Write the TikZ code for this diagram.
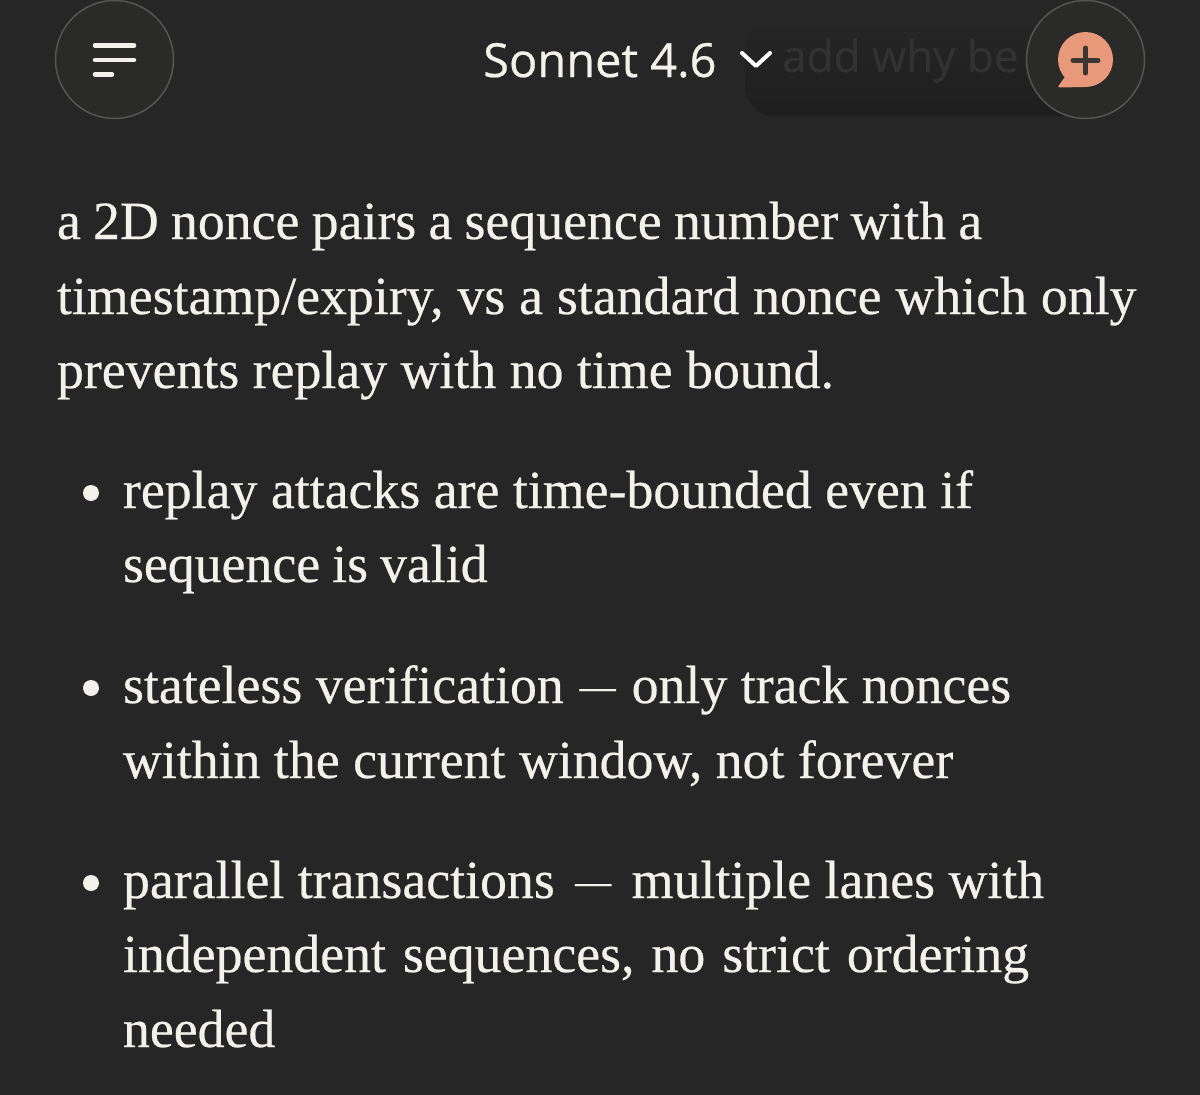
\documentclass[tikz,border=0pt]{standalone}
\usepackage{fontspec}
\setmainfont[FakeBold=0.4]{Liberation Serif}
\newfontfamily\uifont[FakeBold=0.5]{Open Sans}
\usetikzlibrary{
  calc
}
\definecolor{screen}{HTML}{262626}
\definecolor{bodytext}{HTML}{F2F1EC}
\definecolor{ringline}{HTML}{555553}
\definecolor{ringfill}{HTML}{2A2A29}
\definecolor{smear}{HTML}{1E1E1E}
\definecolor{smeartext}{HTML}{323232}
\definecolor{badge}{HTML}{E8997A}
\definecolor{badgemark}{HTML}{3B3632}
\newcommand{\shortdash}[1]{\hspace{#1}\raisebox{4.5pt}{\fontsize{36pt}{0pt}\selectfont —}\hspace{#1}}
\tikzset{
  % Scale: 1 reference pixel is 1pt.
  x=1pt,
  y=-1pt,
%
  % For text lines, placed by their baseline.
  line text/.style={
    text=bodytext,
    font={\fontsize{53.8pt}{0pt}\selectfont},
    anchor=base west,
    inner sep=0pt,
    outer sep=0pt},
%
  % For lines whose word spaces differ from the font's own.
  word gap/.style={
    execute at begin node={\spaceskip=#1\relax}},
%
  % For list bullets.
  bullet/.style={
    circle,
    fill=bodytext,
    minimum size=16pt,
    inner sep=0pt},
%
  % For round buttons.
  round button/.style={
    circle,
    draw=ringline,
    fill=ringfill,
    line width=1.5pt,
    minimum size=118pt,
    inner sep=0pt},
%
  % For icon strokes.
  icon/.style={
    line width=4.5pt,
    line cap=round,
    line join=round,
    draw=bodytext}
}
\begin{document}
\begin{tikzpicture}
  \useasboundingbox[fill=screen] (0,0) rectangle (1200,1095);

  % Top bar.
  \node[round button] (menu) at (114.5,59.5) {};
  \draw[icon] (95,45.5) -- (134,45.5);
  \draw[icon] (95,60) -- (134,60);
  \draw[icon] (95,74.5) -- (112,74.5);

  \node[text=bodytext,font={\uifont\fontsize{47pt}{0pt}\selectfont},anchor=base west,inner sep=0pt] (model) at (483,77) {Sonnet 4.6};

  \shade[top color=screen,bottom color=smear,rounded corners=30pt] (745,20) rectangle (1090,116);
  \node[text=smeartext,font={\uifont\fontsize{44pt}{0pt}\selectfont},anchor=base west,inner sep=0pt] (hint) at (782,72) {add why be};
  \draw[line width=4pt,line cap=round,line join=round,draw=white] (742,53) -- (756,66) -- (770,53);

  \node[round button] (new) at (1085.5,59.5) {};
  \fill[badge] (1085.5,59.5) circle (27.5);
  \fill[badge,rounded corners=1.5pt] (1085.5,87) -- (1057.5,87.5) -- (1064,78) -- (1072,70) -- cycle;
  \draw[line width=5pt,line cap=round,badgemark] (1073,60.5) -- (1098,60.5) (1085.5,48) -- (1085.5,73);

  % Paragraph.
  \node[line text,word gap=12.2pt] (para a) at (57,239) {a 2D nonce pairs a sequence number with a};
  \node[line text,word gap=13.9pt] (para b) at (57,314) {timestamp/expiry, vs a standard nonce which only};
  \node[line text] (para c) at (57,388) {prevents replay with no time bound.};

  % First item.
  \node[bullet] (dot a) at (91,493) {};
  \node[line text] (item aa) at (123,508) {replay attacks are time-bounded even if};
  \node[line text,word gap=12pt] (item ab) at (123,582) {sequence is valid};

  % Second item.
  \node[bullet] (dot b) at (91,688) {};
  \node[line text] (item ba) at (123,703) {stateless verification\shortdash{16pt}only track nonces};
  \node[line text] (item bb) at (123,778) {within the current window, not forever};

  % Third item.
  \node[bullet] (dot c) at (91,883) {};
  \node[line text] (item ca) at (123,898) {parallel transactions\shortdash{20.5pt}multiple lanes with};
  \node[line text,word gap=17pt] (item cb) at (123,972) {independent sequences, no strict ordering};
  \node[line text] (item cc) at (123,1047) {needed};
\end{tikzpicture}
\end{document}
